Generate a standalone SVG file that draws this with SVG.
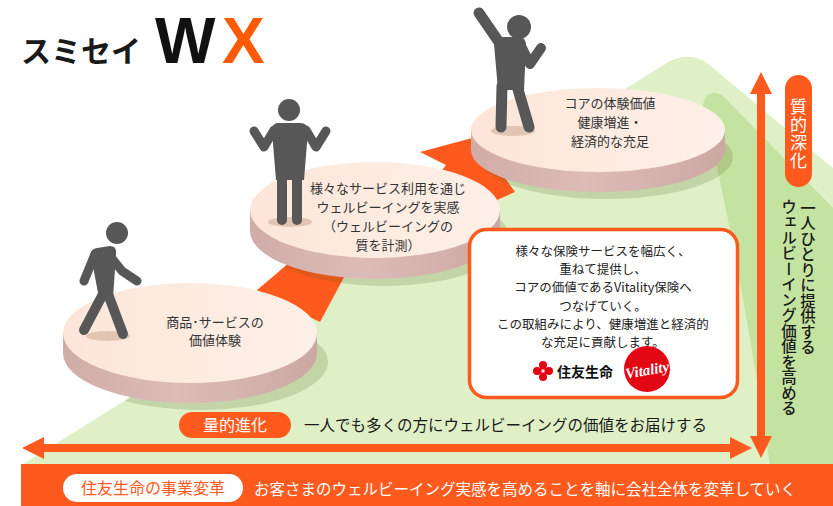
<svg xmlns="http://www.w3.org/2000/svg" width="833" height="506" viewBox="0 0 833 506">
  <defs>
    <style>
      .jp{font-family:"Noto Sans CJK JP","Noto Sans",sans-serif}
      .dt{font-size:13px;fill:#333;text-anchor:middle}
      .bt{font-size:12.5px;fill:#222;text-anchor:middle}
      .limb{stroke:#575757;stroke-linecap:round;stroke-linejoin:round;fill:none}
      .body{fill:#575757}
      .foot{fill:#e2c4b3}
      .or{fill:#ff5a1e}
      .face{fill:url(#face)}
      .side{fill:url(#side)}
      .shadow{fill:#4a5a10;opacity:0.18}
    </style>
    <linearGradient id="face" x1="0" x2="1">
      <stop offset="0" stop-color="#fde5d8"/>
      <stop offset="1" stop-color="#fdf0e8"/>
    </linearGradient>
    <linearGradient id="side" x1="0" x2="1">
      <stop offset="0" stop-color="#d0aca7"/>
      <stop offset="0.45" stop-color="#dcbcb7"/>
      <stop offset="1" stop-color="#cca8a3"/>
    </linearGradient>
    <clipPath id="ground">
      <path d="M20,466 L662,66 Q684,50 706,62 L833,168 L833,466 Z"/>
      <polygon points="256,291 290,262 350,266 320,322"/>
      <polygon points="420,152 476,137 515,192 470,212 436,178 446,165"/>
    </clipPath>
    <marker id="head" viewBox="0 0 22 22" refX="2" refY="11" markerWidth="22" markerHeight="22" markerUnits="userSpaceOnUse" orient="auto-start-reverse">
      <path d="M0,0 L22,11 L0,22 Z" fill="#ff5a1e"/>
    </marker>
  </defs>

  <rect width="833" height="506" fill="#fff"/>

  <!-- green hill behind the steps -->
  <g id="hill">
    <path d="M20,466 L662,66 Q684,50 706,62 L833,168 L833,466 Z" fill="#dff0c7"/>
    <path d="M703,106 Q705,88 722,95 L833,208 L833,466 L770,466 Q740,260 703,106 Z" fill="#c5e3a0"/>
  </g>

  <!-- logo -->
  <g id="logo">
    <text x="21" y="62" class="jp" font-size="30" font-weight="700" fill="#1a1a1a">スミセイ</text>
    <text x="155" y="63" font-family="Liberation Sans, Arial, sans-serif" font-size="64" font-weight="700" fill="#111">W</text>
    <text x="222" y="63" font-family="Liberation Sans, Arial, sans-serif" font-size="64" font-weight="700" fill="#ff5a00">X</text>
  </g>

  <g id="connectors">
    <!-- step ramps between the disks -->
    <polygon class="or" points="256,291 290,262 350,266 320,322"/>
    <polygon class="or" points="420,152 476,137 515,192 470,212 436,178 446,165"/>
    <!-- quantity axis -->
    <line x1="42" y1="448" x2="732" y2="448" stroke="#ff5a1e" stroke-width="8" marker-start="url(#head)" marker-end="url(#head)"/>
    <!-- quality axis -->
    <line x1="761" y1="92" x2="761" y2="438" stroke="#ff5a1e" stroke-width="8" marker-start="url(#head)" marker-end="url(#head)"/>
  </g>

  <!-- disk shadows on the ground -->
  <g clip-path="url(#ground)">
    <ellipse class="shadow" cx="200" cy="362" rx="128" ry="48"/>
    <ellipse class="shadow" cx="384" cy="238" rx="126" ry="48"/>
    <ellipse class="shadow" cx="606" cy="157" rx="127" ry="42"/>
  </g>

  <!-- step 3 -->
  <g id="step3">
    <path class="side" d="M471,130 L471,150 A127,42 0 0 0 725,150 L725,130 Z"/>
    <ellipse class="face" cx="598" cy="130" rx="127" ry="42"/>
    <ellipse class="foot" cx="513" cy="131" rx="22" ry="5"/>
    <g class="limb">
      <line x1="479" y1="13" x2="501" y2="45" stroke-width="11"/>
      <polyline points="521,46 530,64 541,48" stroke-width="10"/>
      <line x1="502" y1="86" x2="501" y2="127" stroke-width="11"/>
      <line x1="517" y1="86" x2="529" y2="127" stroke-width="11"/>
    </g>
    <circle class="body" cx="519" cy="27" r="12"/>
    <path class="body" d="M500,37 L520,37 Q526,38 526,45 L524,90 L498,90 L494,44 Q494,37 500,37 Z"/>
    <g class="jp dt">
      <text x="610" y="108">コアの体験価値</text>
      <text x="610" y="127">健康増進・</text>
      <text x="610" y="146">経済的な充足</text>
    </g>
  </g>

  <!-- step 2 -->
  <g id="step2">
    <path class="side" d="M250,210 L250,231 A125,48 0 0 0 500,231 L500,210 Z"/>
    <ellipse class="face" cx="375" cy="210" rx="125" ry="48"/>
    <ellipse class="foot" cx="290" cy="222" rx="22" ry="5"/>
    <g class="limb">
      <polyline points="274,130 264,147 254,131" stroke-width="9"/>
      <polyline points="306,130 316,147 326,131" stroke-width="9"/>
      <line x1="282" y1="172" x2="282" y2="220" stroke-width="10"/>
      <line x1="297" y1="172" x2="297" y2="220" stroke-width="10"/>
    </g>
    <circle class="body" cx="289" cy="110" r="11"/>
    <path class="body" d="M278,123 L300,123 Q308,123 308,131 L304,180 L276,180 L272,131 Q272,123 278,123 Z"/>
    <g class="jp dt">
      <text x="388" y="193">様々なサービス利用を通じ</text>
      <text x="388" y="212">ウェルビーイングを実感</text>
      <text x="388" y="231">（ウェルビーイングの</text>
      <text x="388" y="250">質を計測）</text>
    </g>
  </g>

  <!-- step 1 -->
  <g id="step1">
    <path class="side" d="M63,333 L63,353 A127,50 0 0 0 317,353 L317,333 Z"/>
    <ellipse class="face" cx="190" cy="333" rx="127" ry="50"/>
    <ellipse class="foot" cx="108" cy="336" rx="22" ry="5"/>
    <g class="limb">
      <line x1="95" y1="254" x2="84" y2="281" stroke-width="9"/>
      <polyline points="110,256 122,271 137,281" stroke-width="9"/>
      <line x1="103" y1="294" x2="84" y2="330" stroke-width="10"/>
      <line x1="108" y1="294" x2="123" y2="334" stroke-width="10"/>
    </g>
    <circle class="body" cx="117" cy="233" r="11"/>
    <path class="body" d="M97,248 L110,246 Q117,246 116,254 L113,298 L99,298 L91,256 Q90,249 97,248 Z"/>
    <g class="jp dt">
      <text x="215" y="327">商品･サービスの</text>
      <text x="215" y="345">価値体験</text>
    </g>
  </g>

  <!-- Vitality note -->
  <g id="note">
    <rect x="469.5" y="229.5" width="268" height="168" rx="17" fill="#fff" stroke="#ff5a1e" stroke-width="3.5"/>
    <g class="jp bt">
      <text x="603" y="256">様々な保険サービスを幅広く、</text>
      <text x="603" y="274.2">重ねて提供し、</text>
      <text x="603" y="292.4">コアの価値であるVitality保険へ</text>
      <text x="603" y="310.6">つなげていく。</text>
      <text x="603" y="328.8">この取組みにより、健康増進と経済的</text>
      <text x="603" y="347">な充足に貢献します。</text>
    </g>
    <g id="sumitomo-mark" fill="#e60012">
      <circle cx="543" cy="365" r="4"/>
      <circle cx="543" cy="377" r="4"/>
      <circle cx="537" cy="371" r="4"/>
      <circle cx="549" cy="371" r="4"/>
      <circle cx="543" cy="371" r="4.5"/>
      <rect x="541.5" y="369.5" width="3" height="3" fill="#fff"/>
    </g>
    <text x="557" y="377" class="jp" font-size="14" font-weight="700" fill="#111">住友生命</text>
    <circle cx="647" cy="369" r="23" fill="#e30613"/>
    <text x="647" y="375" transform="rotate(-10 647 369)" text-anchor="middle" font-family="Liberation Serif, serif" font-style="italic" font-weight="700" font-size="15" fill="#fff">Vitality</text>
  </g>

  <!-- quantity label -->
  <g id="quantity">
    <rect x="179" y="412" width="112" height="26" rx="13" class="or"/>
    <text x="235" y="431" class="jp" font-size="16" fill="#fff" text-anchor="middle">量的進化</text>
    <text x="304" y="431" class="jp" font-size="15.5" fill="#1a1a1a">一人でも多くの方にウェルビーイングの価値をお届けする</text>
  </g>

  <!-- quality label -->
  <g id="quality">
    <rect x="785" y="75" width="27" height="112" rx="13.5" class="or"/>
    <text x="798.5" y="98" class="jp" font-size="17" fill="#fff" style="writing-mode:vertical-rl" letter-spacing="1">質的深化</text>
    <text x="808" y="200" class="jp" font-size="15.5" font-weight="500" fill="#1a1a1a" style="writing-mode:vertical-rl">一人ひとりに提供する</text>
    <text x="789" y="199" class="jp" font-size="15.5" font-weight="500" fill="#1a1a1a" style="writing-mode:vertical-rl">ウェルビーイング価値を高める</text>
  </g>

  <!-- bottom banner -->
  <g id="banner">
    <rect x="21" y="464" width="812" height="42" class="or"/>
    <rect x="63" y="474" width="180" height="28" rx="14" fill="#fff"/>
    <text x="153" y="494" class="jp" font-size="16" fill="#ff5a1e" text-anchor="middle">住友生命の事業変革</text>
    <text x="254" y="495" class="jp" font-size="15.5" fill="#fff">お客さまのウェルビーイング実感を高めることを軸に会社全体を変革していく</text>
  </g>
</svg>
